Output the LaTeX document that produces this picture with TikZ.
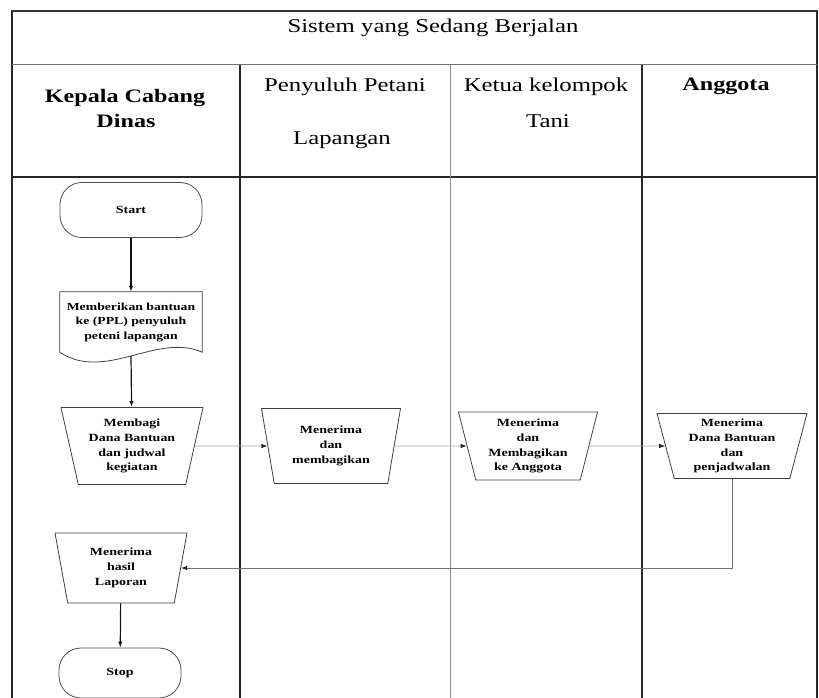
\documentclass[tikz,border=0pt]{standalone}
\usepackage{fontspec}
\setmainfont{Liberation Serif}
\newfontfamily\wideserif{Liberation Serif}[FakeStretch=1.27]
\usetikzlibrary{arrows.meta,shapes.geometric,calc}
\definecolor{frameInk}{RGB}{40,40,40}
\definecolor{flowInk}{RGB}{20,20,20}
\definecolor{laneGray}{RGB}{140,140,140}
\definecolor{hflowGray}{RGB}{165,165,165}

\begin{document}
\begin{tikzpicture}[x=1pt,y=-1pt,
    hdr/.style={font=\wideserif\fontsize{19.5}{22}\selectfont,anchor=base,inner sep=0pt},
    hdrb/.style={hdr,font=\wideserif\bfseries\fontsize{19}{22}\selectfont},
    term/.style={draw=black!70,line width=0.8pt,rounded corners=22pt,
                 minimum width=142pt,minimum height=55pt,
                 font=\wideserif\bfseries\fontsize{11}{14}\selectfont},
    docbox/.style={rectangle,minimum width=142pt,minimum height=60pt,align=center,
                   inner sep=1pt,font=\wideserif\bfseries\fontsize{10.8}{14.5}\selectfont},
    io/.style={trapezium,shape border rotate=180,trapezium angle=73,
               trapezium stretches body,draw=black!75,line width=0.8pt,
               align=center,inner sep=1pt,
               font=\wideserif\bfseries\fontsize{11}{14.8}\selectfont},
    vflow/.style={-{Latex[length=6pt,width=4.5pt]},draw=flowInk,line width=1.2pt},
    hflow/.style={-{Latex[length=6pt,width=4.5pt,color=black!85]},draw=hflowGray,line width=0.8pt},
    bflow/.style={-{Latex[length=6pt,width=4.5pt,color=black!85]},draw=black!55,line width=0.9pt}]
  \useasboundingbox (0,0) rectangle (819,698);
  % frame and lanes
  \draw[draw=frameInk,line width=1.3pt] (12,698) -- (12,11) -- (817,11) -- (817,698);
  \draw[draw=black!80,line width=2pt] (12,11) -- (817,11);
  \draw[draw=black!55,line width=1pt] (12,65) -- (817,65);
  \draw[draw=frameInk,line width=1.3pt] (12,177) -- (817,177);
  \foreach \x/\w/\c in {240/1.2/frameInk,450/0.7/laneGray,642/1.2/frameInk}
    \draw[draw=\c,line width=\w pt] (\x,65) -- (\x,698);
  % headers
  \node[hdr] (title) at (433,33) {Sistem yang Sedang Berjalan};
  \node[hdrb] (kepala) at (125,103) {Kepala Cabang};
  \node[hdrb] (dinas) at (126,128) {Dinas};
  \node[hdr] (penyuluh) at (345,92) {Penyuluh Petani};
  \node[hdr] (lapangan) at (342,145) {Lapangan};
  \node[hdr] (ketua) at (546,92) {Ketua kelompok};
  \node[hdr] (tani) at (548,128) {Tani};
  \node[hdrb] (anggota) at (726,91) {Anggota};
  % flow
  \node[term] (start) at (131,210) {Start};
  \node[docbox] (give) at (131,322) {Memberikan bantuan\\ke (PPL) penyuluh\\peteni lapangan};
  \draw[draw=black!75,line width=0.8pt] (give.south west) -- (give.north west)
    -- (give.north east) -- (give.south east)
    .. controls +(-45,-20) and +(45,30) .. (give.south west);
  \node[io,minimum width=142pt,minimum height=77pt] (split) at (132,446)
    {Membagi\\Dana Bantuan\\dan judwal\\kegiatan};
  \node[io,minimum width=139pt,minimum height=75pt] (ppl) at (331,446)
    {Menerima\\dan\\membagikan};
  \node[io,minimum width=139pt,minimum height=68pt] (ketuabox) at (528,446)
    {Menerima\\dan\\Membagikan\\ke Anggota};
  \node[io,minimum width=150pt,minimum height=65pt] (member) at (732,446)
    {Menerima\\Dana Bantuan\\dan\\penjadwalan};
  \node[io,minimum width=132pt,minimum height=70pt] (report) at (121,568)
    {Menerima\\hasil\\Laporan};
  \node[term,minimum width=122pt,minimum height=50pt] (stop) at (120,673) {Stop};

  \draw[vflow] (start) -- (give);
  \draw[vflow] ([yshift=-4pt]give.south) -- (split);
  \draw[hflow] (split) -- (ppl);
  \draw[hflow] (ppl) -- (ketuabox);
  \draw[hflow] (ketuabox) -- (member);
  \draw[bflow] (member) |- (report);
  \draw[vflow] (report) -- (stop);
\end{tikzpicture}
\end{document}
